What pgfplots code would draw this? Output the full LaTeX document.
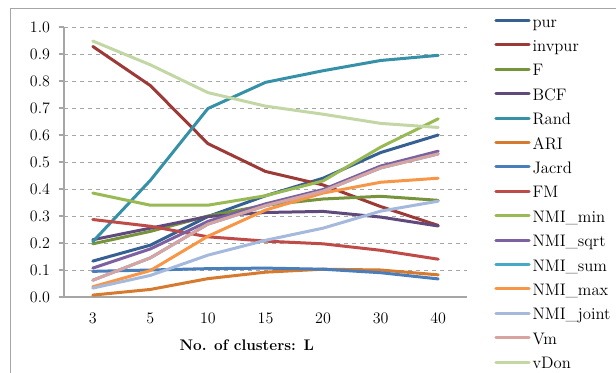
\documentclass[border=0pt]{standalone}
\usepackage{pgfplots}
\pgfplotsset{compat=1.18}
\definecolor{cpur}{HTML}{376092}
\definecolor{cinvpur}{HTML}{9C3A37}
\definecolor{cF}{HTML}{77933C}
\definecolor{cBCF}{HTML}{604A7B}
\definecolor{cRand}{HTML}{3590A8}
\definecolor{cARI}{HTML}{D57A2E}
\definecolor{cJacrd}{HTML}{4A7EBB}
\definecolor{cFM}{HTML}{BE4B48}
\definecolor{cNMImin}{HTML}{98B954}
\definecolor{cNMIsqrt}{HTML}{7D60A0}
\definecolor{cNMIsum}{HTML}{46AAC5}
\definecolor{cNMImax}{HTML}{F79646}
\definecolor{cNMIjoint}{HTML}{A5B9DD}
\definecolor{cVm}{HTML}{D9A3A2}
\definecolor{cvDon}{HTML}{C3D7A5}
\definecolor{frame}{HTML}{A6A6A6}
\begin{document}
\begin{tikzpicture}
\useasboundingbox (0pt,0pt) rectangle (462pt,279pt);
\draw[frame, line width=0.75pt] (7.5pt,-2pt) -- (7.5pt,272.25pt) -- (470pt,272.25pt);
\begin{axis}[
  at={(48pt,56.25pt)}, anchor=south west,
  scale only axis, width=302.25pt, height=202.5pt,
  xmin=-0.5, xmax=6.5, ymin=0, ymax=1,
  xtick={0,1,2,3,4,5,6},
  xticklabels={3,5,10,15,20,30,40},
  major x tick style={draw=none},
  extra x ticks={-0.5,0.5,1.5,2.5,3.5,4.5,5.5,6.5},
  extra x tick labels={},
  extra x tick style={grid=none, tick style={draw=frame, line width=0.8pt}},
  ytick={0,0.1,0.2,0.3,0.4,0.5,0.6,0.7,0.8,0.9,1.0},
  yticklabel style={/pgf/number format/fixed, /pgf/number format/fixed zerofill, /pgf/number format/precision=1, xshift=-3pt},
  ymajorgrids,
  grid style={dashed, frame, line width=0.6pt},
  axis x line*=bottom, axis y line*=left,
  axis line style={frame, line width=1pt, -},
  tick align=outside, major tick length=4pt,
  tick style={frame, line width=0.8pt},
  tick label style={font=\fontsize{12}{14}\selectfont},
  xticklabel style={yshift=-4pt},
  xlabel={\textbf{No. of clusters: L}},
  xlabel style={at={(axis description cs:0.5,0)}, anchor=center, yshift=-36pt, xshift=-14pt, font=\fontsize{11.5}{13}\selectfont},
  every axis plot/.append style={line width=2.25pt, line join=round, line cap=round, mark=none},
  legend image code/.code={\draw[#1] (0pt,0.25em) -- (25pt,0.25em);},
  legend cell align=left,
  legend style={at={(axis description cs:1.067,1.045)}, anchor=north west, draw=none, fill=none,
    inner sep=0pt, row sep=5.3pt,
    font=\fontsize{12.5}{14}\selectfont,
    nodes={inner sep=1.5pt, text height=7.5pt, text depth=2.5pt}},
]
\addplot[cpur] coordinates {(0,0.133)(1,0.192)(2,0.298)(3,0.375)(4,0.440)(5,0.535)(6,0.600)};
\addlegendentry{pur}
\addplot[cinvpur] coordinates {(0,0.928)(1,0.783)(2,0.568)(3,0.465)(4,0.415)(5,0.335)(6,0.265)};
\addlegendentry{invpur}
\addplot[cF] coordinates {(0,0.197)(1,0.243)(2,0.300)(3,0.340)(4,0.363)(5,0.373)(6,0.358)};
\addlegendentry{F}
\addplot[cBCF] coordinates {(0,0.212)(1,0.255)(2,0.298)(3,0.313)(4,0.317)(5,0.296)(6,0.263)};
\addlegendentry{BCF}
\addplot[cRand] coordinates {(0,0.205)(1,0.432)(2,0.698)(3,0.795)(4,0.838)(5,0.876)(6,0.895)};
\addlegendentry{Rand}
\addplot[cARI] coordinates {(0,0.007)(1,0.028)(2,0.068)(3,0.092)(4,0.103)(5,0.100)(6,0.082)};
\addlegendentry{ARI}
\addplot[cJacrd] coordinates {(0,0.095)(1,0.100)(2,0.105)(3,0.107)(4,0.103)(5,0.090)(6,0.067)};
\addlegendentry{Jacrd}
\addplot[cFM] coordinates {(0,0.287)(1,0.262)(2,0.223)(3,0.207)(4,0.197)(5,0.173)(6,0.140)};
\addlegendentry{FM}
\addplot[cNMImin] coordinates {(0,0.385)(1,0.340)(2,0.340)(3,0.375)(4,0.430)(5,0.555)(6,0.660)};
\addlegendentry{NMI\_min}
\addplot[cNMIsqrt] coordinates {(0,0.107)(1,0.178)(2,0.280)(3,0.345)(4,0.398)(5,0.485)(6,0.540)};
\addlegendentry{NMI\_sqrt}
\addplot[cNMIsum] coordinates {(0,0.062)(1,0.145)(2,0.270)(3,0.338)(4,0.392)(5,0.478)(6,0.530)};
\addlegendentry{NMI\_sum}
\addplot[cNMImax] coordinates {(0,0.038)(1,0.098)(2,0.225)(3,0.322)(4,0.385)(5,0.425)(6,0.440)};
\addlegendentry{NMI\_max}
\addplot[cNMIjoint] coordinates {(0,0.033)(1,0.080)(2,0.155)(3,0.210)(4,0.255)(5,0.318)(6,0.355)};
\addlegendentry{NMI\_joint}
\addplot[cVm] coordinates {(0,0.062)(1,0.145)(2,0.270)(3,0.338)(4,0.392)(5,0.478)(6,0.530)};
\addlegendentry{Vm}
\addplot[cvDon] coordinates {(0,0.948)(1,0.860)(2,0.757)(3,0.707)(4,0.677)(5,0.643)(6,0.628)};
\addlegendentry{vDon}
\end{axis}
\end{tikzpicture}
\end{document}
